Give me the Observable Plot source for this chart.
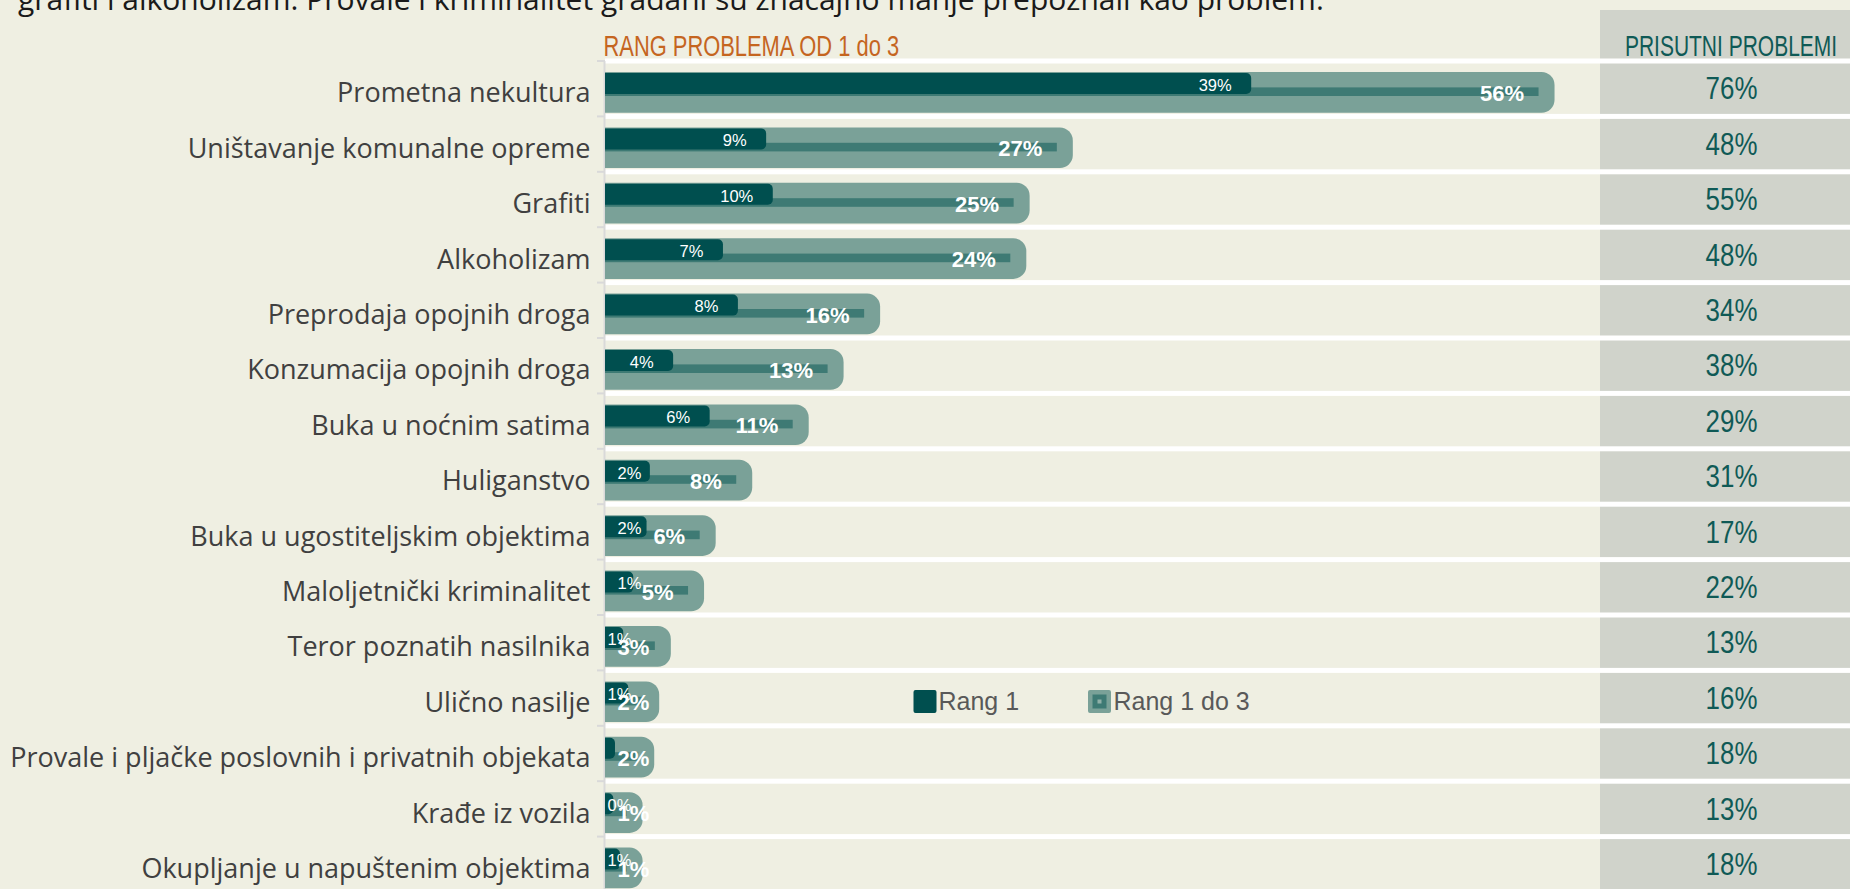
<!DOCTYPE html>
<html><head><meta charset="utf-8">
<script src="https://cdn.jsdelivr.net/npm/d3@7"></script>
<script src="https://cdn.jsdelivr.net/npm/@observablehq/plot@0.6"></script>
<style>
html,body{margin:0;padding:0;background:#efefe2;overflow:hidden;width:1850px;height:889px}
#intro{font-family:"Open Sans",sans-serif;font-size:30px;line-height:30px;height:26px;margin-top:-16px;padding-left:18px;color:#1a1a1a;white-space:nowrap;position:relative}
#row{display:flex;position:relative}
#right{background:#d0d3cb;width:250px;height:879px;overflow:hidden}
#left{width:1600px}
</style></head><body>
<div id="intro">grafiti i alkoholizam. Provale i kriminalitet građani su značajno manje prepoznali kao problem.</div>
<div id="row"><div id="left"></div><div id="right"></div></div>
<script>
const categories = [
  "Prometna nekultura",
  "Uništavanje komunalne opreme",
  "Grafiti",
  "Alkoholizam",
  "Preprodaja opojnih droga",
  "Konzumacija opojnih droga",
  "Buka u noćnim satima",
  "Huliganstvo",
  "Buka u ugostiteljskim objektima",
  "Maloljetnički kriminalitet",
  "Teror poznatih nasilnika",
  "Ulično nasilje",
  "Provale i pljačke poslovnih i privatnih objekata",
  "Krađe iz vozila",
  "Okupljanje u napuštenim objektima"
];
const rang1 = [38.6, 9.4, 9.8, 6.8, 7.7, 3.8, 6.0, 2.4, 2.2, 1.4, 0.8, 1.1, 0.3, 0.2, 0.6];
const rang1Labels = ["39%", "9%", "10%", "7%", "8%", "4%", "6%", "2%", "2%", "1%", "1%", "1%", "", "0%", "1%"];
const rang1do3 = [56.2, 27.2, 24.6, 24.4, 15.6, 13.4, 11.3, 7.9, 5.7, 5.0, 3.0, 2.3, 2.0, 1.3, 1.3];
const prisutni = [76, 48, 55, 48, 34, 38, 29, 31, 17, 22, 13, 16, 18, 13, 18];
const seriesNames = ["Rang 1", "Rang 1 do 3"];
const leftTitle = "RANG PROBLEMA OD 1 do 3";
const rightTitle = "PRISUTNI PROBLEMI";

const C = {dark: "#004f4f", halo: "#7aa198", thin: "#3e7a74", sep: "#ffffff", axis: "#d9d9d9", teal: "#0f5a56", orange: "#c5651f", legend: "#595959"};
const W = 1600, H = 884, TOP = 51, BOTTOM = 2, ML = 605;
const xMax = 59.9;
const k = (W - ML) / xMax;
const bw = (H - TOP - BOTTOM) / categories.length;
const data = categories.map((c, i) => ({c, r1: rang1[i], r1l: rang1Labels[i], r3: rang1do3[i], p: prisutni[i]}));
const em = s => [...s].reduce((a, ch) => a + (ch === "%" ? 0.889 : 0.556), 0);
const sans = "'Liberation Sans', Arial, sans-serif";

const DFS = 16.5, LFS = 22;
const darkFits = d => d.r1 * k + 5 - 20 - em(d.r1l) * DFS >= 12;
const lightLabel = d => Math.round(d.r3) + "%";
const lightFits = d => d.r3 * k - 15 - em(lightLabel(d)) * LFS >= 12;

const left = Plot.plot({
  width: W, height: H, marginLeft: ML, marginRight: 0, marginTop: TOP, marginBottom: BOTTOM,
  style: {background: "transparent", fontFamily: "'Open Sans', sans-serif", fontSize: "27px", color: "#404040", overflow: "visible", maxWidth: "none"},
  x: {domain: [0, xMax], axis: null},
  y: {type: "band", domain: categories, padding: 0, round: false},
  marks: [
    Plot.cell(categories, {y: d => d, fill: C.sep, insetTop: -2.5, insetBottom: bw - 2.5}),
    Plot.barX(categories, {y: d => d, x1: 0, x2: 0, insetLeft: -8, insetTop: -1, insetBottom: bw - 1, fill: C.axis}),
    Plot.ruleX([0], {stroke: C.axis, strokeWidth: 2, dx: -1}),
    Plot.barX(data, {y: "c", x1: 0, x2: "r3", insetLeft: -20, insetRight: -16, insetTop: 11, insetBottom: bw - 51.7, rx: 13, fill: C.halo, clip: true}),
    Plot.barX(data, {y: "c", x1: 0, x2: "r3", insetTop: 26.4, insetBottom: bw - 35, fill: C.thin}),
    Plot.barX(data, {y: "c", x1: 0, x2: "r1", insetLeft: -8, insetRight: -5, insetTop: 12, insetBottom: bw - 33, rx: 5, fill: C.dark, clip: true}),
    Plot.text(data.filter(d => d.r1l && darkFits(d)), {y: "c", x: "r1", text: "r1l", textAnchor: "end", dx: -15, dy: -3.7, fill: "white", fontFamily: sans, fontSize: DFS}),
    Plot.text(data.filter(d => d.r1l && !darkFits(d)), {y: "c", x: d => (d.r1 * k + 5 > 25 ? 12 : 2) / k, text: "r1l", textAnchor: "start", dy: -3.7, fill: "white", fontFamily: sans, fontSize: DFS}),
    Plot.text(data.filter(lightFits), {y: "c", x: "r3", text: lightLabel, textAnchor: "end", dx: -15, dy: 4.8, fill: "white", fontFamily: sans, fontWeight: "bold", fontSize: LFS}),
    Plot.text(data.filter(d => !lightFits(d)), {y: "c", x: () => 12 / k, text: lightLabel, textAnchor: "start", dy: 4.8, fill: "white", fontFamily: sans, fontWeight: "bold", fontSize: LFS}),
    Plot.axisY({tickSize: 0, tickPadding: 15, dy: 4.6, label: null}),
    Plot.text([leftTitle], {frameAnchor: "top-left", lineAnchor: "bottom", textAnchor: "start", dx: -2, dy: -6, fill: C.orange, fontFamily: sans, fontSize: 30}),
    // legend
    Plot.dot([seriesNames[0]], {frameAnchor: "top-left", dx: 319.5, dy: 640, symbol: "square", r: 10.72, fill: C.dark, stroke: C.dark, strokeWidth: 4, strokeLinejoin: "round"}),
    Plot.text([seriesNames[0]], {frameAnchor: "top-left", lineAnchor: "middle", dx: 333, dy: 640, textAnchor: "start", fill: C.legend, fontFamily: sans, fontSize: 25}),
    Plot.dot([seriesNames[1]], {frameAnchor: "top-left", dx: 494, dy: 640, symbol: "square", r: 10.72, fill: C.halo, stroke: C.halo, strokeWidth: 4, strokeLinejoin: "round"}),
    Plot.dot([seriesNames[1]], {frameAnchor: "top-left", dx: 494, dy: 640, symbol: "square", r: 7.9, fill: C.thin}),
    Plot.dot([seriesNames[1]], {frameAnchor: "top-left", dx: 494, dy: 640, symbol: "square", r: 2.26, fill: "#8fb0a8"}),
    Plot.text([seriesNames[1]], {frameAnchor: "top-left", lineAnchor: "middle", dx: 508, dy: 640, textAnchor: "start", fill: C.legend, fontFamily: sans, fontSize: 25})
  ]
});
document.getElementById("left").append(left);

const right = Plot.plot({
  width: 250, height: H, marginLeft: 0, marginRight: 0, marginTop: TOP, marginBottom: BOTTOM,
  style: {background: "transparent", overflow: "visible", maxWidth: "none"},
  y: {type: "band", domain: categories, padding: 0, round: false, axis: null},
  marks: [
    Plot.cell(categories, {y: d => d, fill: C.sep, insetTop: -2.5, insetBottom: bw - 2.5}),
    Plot.text(data, {y: "c", text: d => d.p + "%", dx: 6, fill: C.teal, fontFamily: sans, fontSize: 32}),
    Plot.text([rightTitle], {frameAnchor: "top", lineAnchor: "bottom", dx: 5.5, dy: -6, fill: C.teal, fontFamily: sans, fontSize: 30})
  ]
});
document.getElementById("right").append(right);

// condensed typography (narrow face look) via horizontal scaling
function squeeze(svg, match, f) {
  svg.querySelectorAll("text").forEach(t => {
    if (!match(t.textContent)) return;
    const x = t.getAttribute("x");
    if (x != null) t.setAttribute("x", (+x / f).toFixed(2));
    const tr = t.getAttribute("transform") || "";
    t.setAttribute("transform", (tr + ` scale(${f},1)`).trim());
  });
}
squeeze(left, s => s === leftTitle, 0.73);
squeeze(right, s => s === rightTitle, 0.70);
squeeze(right, s => /^\d+%$/.test(s), 0.81);
</script>
</body></html>
